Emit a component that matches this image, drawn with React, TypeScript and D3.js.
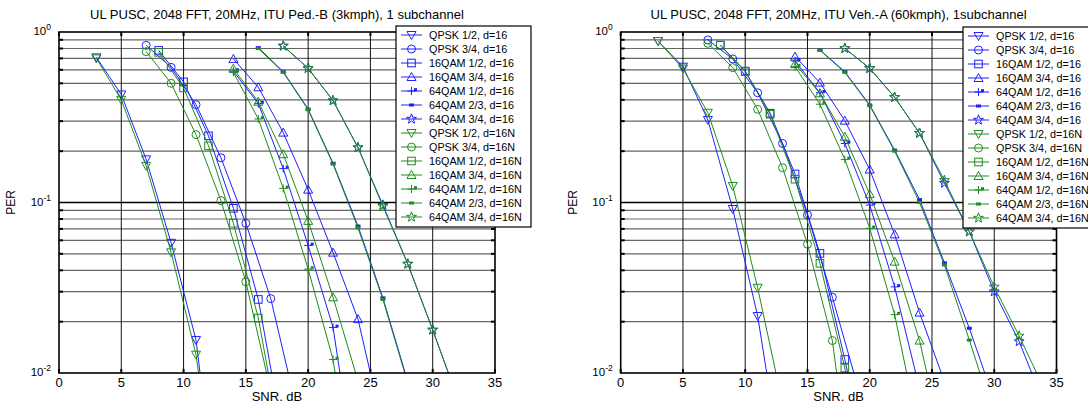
import React from 'react';
import * as d3 from 'd3';

const W = 1088;
const H = 404;

const modulations = ['QPSK 1/2', 'QPSK 3/4', '16QAM 1/2', '16QAM 3/4', '64QAM 1/2', '64QAM 2/3', '64QAM 3/4'];
const markerKinds = ['triDown', 'circle', 'square', 'triUp', 'plus', 'dash', 'star'];
const xTicks = [0, 5, 10, 15, 20, 25, 30, 35];
const yTickExps = [0, -1, -2];
const titleLeft = 'UL PUSC, 2048 FFT, 20MHz, ITU Ped.-B (3kmph), 1 subchannel';
const titleRight = 'UL PUSC, 2048 FFT, 20MHz, ITU Veh.-A (60kmph), 1subchannel';

// SNR grids (dB) per modulation
const snrQpsk12 = [3, 5, 7, 9, 11, 13];
const snrQpsk34 = [7, 9, 11, 13, 15, 17, 19];
const snr16q12 = [8, 10, 12, 14, 16, 18, 20];
const snr16q34 = [14, 16, 18, 20, 22, 24, 26];
const snr64q12 = [14, 16, 18, 20, 22, 24];
const snr64q23 = [16, 18, 20, 22, 24, 26, 28, 30];
const snr64q34 = [18, 20, 22, 24, 26, 28, 30, 32, 34];

// Ped.-B, d=16 (blue)
const pedQpsk12 = [0.71, 0.43, 0.179, 0.058, 0.0156, 0.001];
const pedQpsk34 = [0.835, 0.62, 0.375, 0.183, 0.0755, 0.0273, 0.0065];
const ped16q12 = [0.78, 0.51, 0.246, 0.0925, 0.027, 0.0042, 0.0006];
const ped16q34 = [0.695, 0.474, 0.257, 0.119, 0.0508, 0.0207, 0.0048];
const ped64q12 = [0.59, 0.38, 0.158, 0.056, 0.0185, 0.002];
const ped64q23 = [0.81, 0.585, 0.353, 0.17, 0.0728, 0.0276, 0.0089, 0.002];
const ped64q34 = [0.828, 0.612, 0.396, 0.21, 0.0966, 0.0436, 0.0179, 0.0071, 0.002];
// Ped.-B, d=16N (green)
const pedQpsk12N = [0.70, 0.40, 0.164, 0.051, 0.0128, 0.0011];
const pedQpsk34N = [0.767, 0.50, 0.25, 0.1026, 0.0343, 0.0078, 0.0015];
const ped16q12N = [0.76, 0.47, 0.215, 0.0755, 0.021, 0.0033, 0.0005];
const ped16q34N = [0.61, 0.39, 0.192, 0.078, 0.0278, 0.009, 0.002];
const ped64q12N = [0.58, 0.309, 0.121, 0.0407, 0.012, 0.0013];
const ped64q23N = [0.80, 0.58, 0.35, 0.168, 0.071, 0.027, 0.0087, 0.002];
const ped64q34N = [0.83, 0.612, 0.396, 0.21, 0.095, 0.0436, 0.0179, 0.0071, 0.002];

// Veh.-A, d=16 (blue)
const vehQpsk12 = [0.885, 0.626, 0.305, 0.0916, 0.0216, 0.0026];
const vehQpsk34 = [0.898, 0.695, 0.44, 0.222, 0.0845, 0.0278, 0.0085];
const veh16q12 = [0.839, 0.59, 0.334, 0.147, 0.0503, 0.012, 0.0025];
const veh16q34 = [0.717, 0.505, 0.302, 0.156, 0.065, 0.0226, 0.0089];
const veh64q12 = [0.676, 0.44, 0.222, 0.0966, 0.032, 0.0081];
const veh64q23 = [0.784, 0.585, 0.373, 0.203, 0.104, 0.0443, 0.0183, 0.0069];
const veh64q34 = [0.802, 0.612, 0.414, 0.255, 0.13, 0.0674, 0.030, 0.0153, 0.0066];
// Veh.-A, d=16N (green)
const vehQpsk12N = [0.885, 0.61, 0.336, 0.125, 0.0316, 0.0066];
const vehQpsk34N = [0.858, 0.618, 0.352, 0.16, 0.0569, 0.0155, 0.0012];
const veh16q12N = [0.835, 0.585, 0.329, 0.137, 0.044, 0.0107, 0.0016];
const veh16q34N = [0.649, 0.437, 0.243, 0.112, 0.045, 0.0155, 0.0035];
const veh64q12N = [0.626, 0.377, 0.179, 0.0706, 0.022, 0.0043];
const veh64q23N = [0.78, 0.58, 0.37, 0.2, 0.1, 0.043, 0.0156, 0.0055];
const veh64q34N = [0.802, 0.612, 0.414, 0.255, 0.135, 0.0674, 0.032, 0.0165, 0.0081];

const snrGrids = [snrQpsk12, snrQpsk34, snr16q12, snr16q34, snr64q12, snr64q23, snr64q34];
const pedBlue = [pedQpsk12, pedQpsk34, ped16q12, ped16q34, ped64q12, ped64q23, ped64q34];
const pedGreen = [pedQpsk12N, pedQpsk34N, ped16q12N, ped16q34N, ped64q12N, ped64q23N, ped64q34N];
const vehBlue = [vehQpsk12, vehQpsk34, veh16q12, veh16q34, veh64q12, veh64q23, veh64q34];
const vehGreen = [vehQpsk12N, vehQpsk34N, veh16q12N, veh16q34N, veh64q12N, veh64q23N, veh64q34N];

const BLUE = '#1f1fff';
const GREEN = '#1f8c1f';
const FONT = '"Liberation Sans", Arial, Helvetica, sans-serif';

function starPath(r: number) {
  const pts: string[] = [];
  const ri = r * 0.4;
  for (let i = 0; i < 10; i++) {
    const a = -Math.PI / 2 + (i * Math.PI) / 5;
    const rr = i % 2 === 0 ? r : ri;
    pts.push(`${(rr * Math.cos(a)).toFixed(2)},${(rr * Math.sin(a)).toFixed(2)}`);
  }
  return 'M' + pts.join('L') + 'Z';
}

function Marker({ kind, x, y, color }: { kind: string; x: number; y: number; color: string }) {
  const t = `translate(${x},${y})`;
  const common = { fill: 'none', stroke: color, strokeWidth: 1 };
  switch (kind) {
    case 'triDown':
      return <path transform={t} d="M-4.5,-3.5L4.5,-3.5L0,4.5Z" {...common} />;
    case 'triUp':
      return <path transform={t} d="M-4.5,3.5L4.5,3.5L0,-4.5Z" {...common} />;
    case 'circle':
      return <circle transform={t} r={4} {...common} />;
    case 'square':
      return <rect transform={t} x={-3.8} y={-3.8} width={7.6} height={7.6} {...common} />;
    case 'plus':
      return (
        <g transform={t}>
          <path d="M-4,0H4M0,-4V4" stroke={color} strokeWidth={1} />
          <rect x={2.5} y={-2.8} width={3} height={3} fill={color} />
        </g>
      );
    case 'dash':
      return <rect transform={t} x={-2.5} y={-1.5} width={5} height={3} fill={color} />;
    case 'star':
      return <path transform={t} d={starPath(5.2)} {...common} />;
    default:
      return null;
  }
}

type PanelProps = {
  x0: number;
  x1: number;
  title: string;
  blue: number[][];
  green: number[][];
  legendX: number;
  legendY: number;
  id: string;
};

const TOP = 32;
const BOTTOM = 373;

function Panel({ x0, x1, title, blue, green, legendX, legendY, id }: PanelProps) {
  const x = d3.scaleLinear().domain([0, 35]).range([x0, x1]);
  const y = d3.scaleLog().domain([0.01, 1]).range([BOTTOM, TOP]);
  const line = d3
    .line<[number, number]>()
    .x((d) => x(d[0]))
    .y((d) => y(d[1]));

  const minorVals: number[] = [];
  for (const e of [-2, -1]) {
    for (let k = 2; k <= 9; k++) minorVals.push(k * Math.pow(10, e));
  }

  const series: { color: string; kind: string; pts: [number, number][]; label: string }[] = [];
  modulations.forEach((m, i) => {
    series.push({
      color: BLUE,
      kind: markerKinds[i],
      pts: snrGrids[i].map((s, j) => [s, blue[i][j]] as [number, number]).filter((p) => p[1] !== undefined),
      label: `${m}, d=16`,
    });
  });
  modulations.forEach((m, i) => {
    series.push({
      color: GREEN,
      kind: markerKinds[i],
      pts: snrGrids[i].map((s, j) => [s, green[i][j]] as [number, number]).filter((p) => p[1] !== undefined),
      label: `${m}, d=16N`,
    });
  });

  const clipId = `clip-${id}`;
  const legW = 135;
  const legH = 201;

  return (
    <g>
      <defs>
        <clipPath id={clipId}>
          <rect x={x0} y={TOP} width={x1 - x0} height={BOTTOM - TOP} />
        </clipPath>
      </defs>
      <rect x={x0} y={TOP} width={x1 - x0} height={BOTTOM - TOP} fill="#fff" />
      {/* horizontal minor grid */}
      {minorVals.map((v) => (
        <line key={`h${v}`} x1={x0} x2={x1} y1={y(v)} y2={y(v)} stroke="#666" strokeWidth={1.2} />
      ))}
      {/* major horizontal grid at 10^-1 */}
      <line x1={x0} x2={x1} y1={y(0.1)} y2={y(0.1)} stroke="#000" strokeWidth={1.4} />
      {/* vertical grid */}
      {xTicks.slice(1, -1).map((t) => (
        <line key={`v${t}`} x1={x(t)} x2={x(t)} y1={TOP} y2={BOTTOM} stroke="#111" strokeWidth={1} />
      ))}
      {/* ticks */}
      {xTicks.map((t) => (
        <g key={`xt${t}`}>
          <line x1={x(t)} x2={x(t)} y1={TOP} y2={TOP + 4} stroke="#000" strokeWidth={2} />
          <line x1={x(t)} x2={x(t)} y1={BOTTOM} y2={BOTTOM - 4} stroke="#000" strokeWidth={2} />
        </g>
      ))}
      {minorVals.map((v) => (
        <g key={`yt${v}`}>
          <line x1={x0} x2={x0 + 4} y1={y(v)} y2={y(v)} stroke="#000" strokeWidth={2} />
          <line x1={x1} x2={x1 - 4} y1={y(v)} y2={y(v)} stroke="#000" strokeWidth={2} />
        </g>
      ))}
      {/* data */}
      <g clipPath={`url(#${clipId})`}>
        {series.map((s, i) => (
          <g key={`s${i}`}>
            <path d={line(s.pts) || ''} fill="none" stroke={s.color} strokeWidth={1} />
            {s.pts.map((p, j) => (
              <Marker key={j} kind={s.kind} x={x(p[0])} y={y(p[1])} color={s.color} />
            ))}
          </g>
        ))}
      </g>
      {/* axes box */}
      <rect x={x0} y={TOP} width={x1 - x0} height={BOTTOM - TOP} fill="none" stroke="#000" strokeWidth={1.6} />
      {/* x tick labels */}
      {xTicks.map((t) => (
        <text key={`xl${t}`} x={x(t)} y={387} textAnchor="middle" fontSize={13} fontFamily={FONT} fill="#000">
          {t}
        </text>
      ))}
      {/* y tick labels */}
      {yTickExps.map((e) => (
        <text key={`yl${e}`} x={x0 - 8} y={y(Math.pow(10, e)) + 3} textAnchor="end" fontSize={11.5} fontFamily={FONT} fill="#000">
          10
          <tspan dy={-5} fontSize={8.5}>
            {e}
          </tspan>
        </text>
      ))}
      {/* labels */}
      <text x={(x0 + x1) / 2} y={19} textAnchor="middle" fontSize={13} fontFamily={FONT} fill="#000">
        {title}
      </text>
      <text x={(x0 + x1) / 2} y={401} textAnchor="middle" fontSize={13} fontFamily={FONT} fill="#000">
        SNR. dB
      </text>
      <text
        transform={`translate(${x0 - 44},${(TOP + BOTTOM) / 2}) rotate(-90)`}
        textAnchor="middle"
        fontSize={12}
        fontFamily={FONT}
        fill="#000"
      >
        PER
      </text>
      {/* legend */}
      <g>
        <rect x={legendX} y={legendY} width={legW} height={legH} fill="#fff" stroke="#000" strokeWidth={1.2} />
        {series.map((s, i) => {
          const cy = legendY + 9 + i * 14;
          return (
            <g key={`lg${i}`}>
              <line x1={legendX + 5} x2={legendX + 26} y1={cy} y2={cy} stroke={s.color} strokeWidth={1} />
              <Marker kind={s.kind} x={legendX + 15.5} y={cy} color={s.color} />
              <text x={legendX + 33} y={cy + 3.8} fontSize={10.8} fontFamily={FONT} fill="#000">
                {s.label}
              </text>
            </g>
          );
        })}
      </g>
    </g>
  );
}

export default function App() {
  return (
    <svg
      width={W}
      height={H}
      viewBox={`0 0 ${W} ${H}`}
      style={{ position: 'absolute', left: 0, top: 0, display: 'block', background: '#fff' }}
    >
      <rect x={0} y={0} width={W} height={H} fill="#fff" />
      <Panel x0={59} x1={495} title={titleLeft} blue={pedBlue} green={pedGreen} legendX={396} legendY={26} id="ped" />
      <Panel x0={620.7} x1={1056.5} title={titleRight} blue={vehBlue} green={vehGreen} legendX={963} legendY={27} id="veh" />
    </svg>
  );
}
